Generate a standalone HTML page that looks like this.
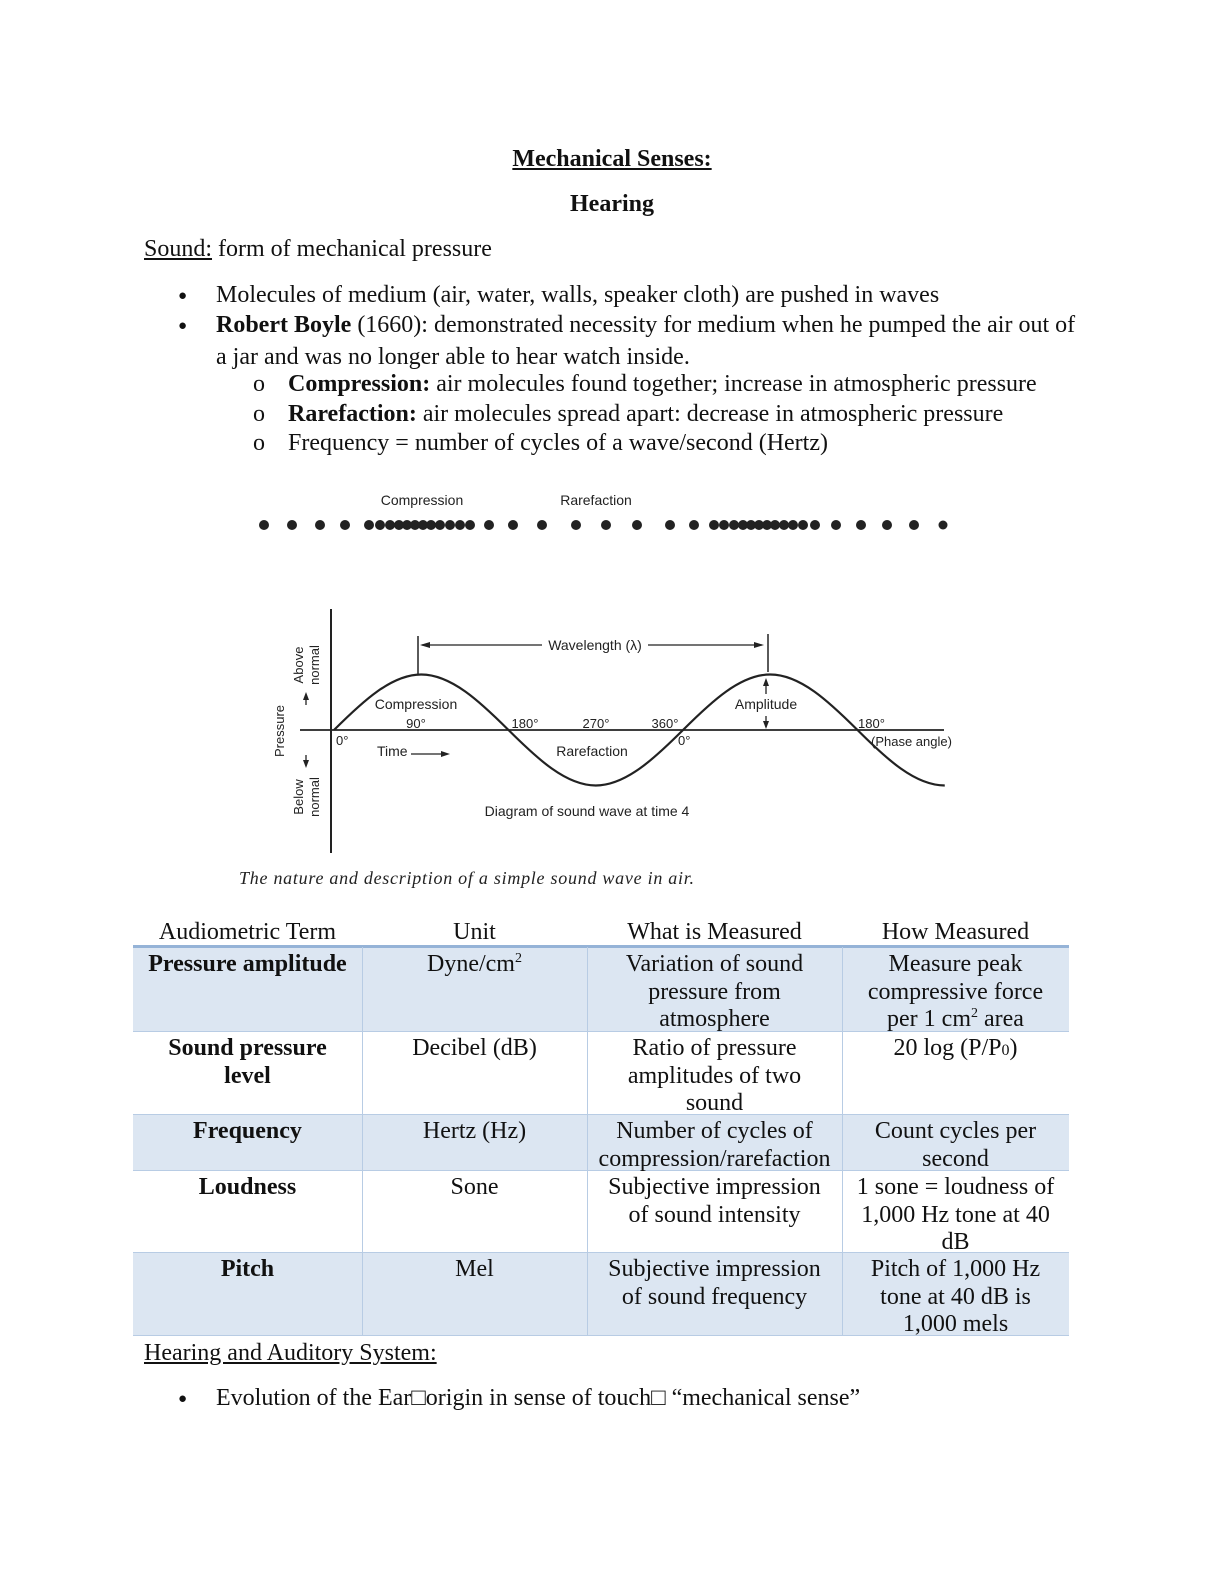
<!DOCTYPE html>
<html><head><meta charset="utf-8"><style>
body{margin:0;background:#fff;}
#p{position:relative;width:1224px;height:1584px;overflow:hidden;font-family:"Liberation Serif",serif;font-size:24px;color:#111;}
.t{position:absolute;white-space:nowrap;line-height:27.6px;}
.c{position:absolute;text-align:center;line-height:27.6px;}
.u{text-decoration:underline;}
.cell{position:absolute;box-sizing:border-box;}
.b{position:absolute;font-size:15px;line-height:27.6px;}
</style></head><body><div id="p">
<div class="t u" style="left:0;width:1224px;text-align:center;top:146px;font-weight:bold">Mechanical Senses:</div>
<div class="t" style="left:0;width:1224px;text-align:center;top:191px;font-weight:bold">Hearing</div>
<div class="t" style="left:144px;top:236px"><span class="u">Sound:</span> form of mechanical pressure</div>
<div class="b" style="left:178px;top:283px">●</div>
<div class="t" style="left:216px;top:282px">Molecules of medium (air, water, walls, speaker cloth) are pushed in waves</div>
<div class="b" style="left:178px;top:313px">●</div>
<div class="t" style="left:216px;top:312px"><b>Robert Boyle</b> (1660): demonstrated necessity for medium when he pumped the air out of</div>
<div class="t" style="left:216px;top:344px">a jar and was no longer able to hear watch inside.</div>
<div class="t" style="left:253px;top:371px">o</div>
<div class="t" style="left:288px;top:371px"><b>Compression:</b> air molecules found together; increase in atmospheric pressure</div>
<div class="t" style="left:253px;top:401px">o</div>
<div class="t" style="left:288px;top:401px"><b>Rarefaction:</b> air molecules spread apart: decrease in atmospheric pressure</div>
<div class="t" style="left:253px;top:430px">o</div>
<div class="t" style="left:288px;top:430px">Frequency = number of cycles of a wave/second (Hertz)</div>

<svg style="position:absolute;left:0;top:0" width="1224" height="900" font-family="Liberation Sans, sans-serif" font-size="14" fill="#222">
<text x="422" y="505" text-anchor="middle">Compression</text>
<text x="596" y="505" text-anchor="middle">Rarefaction</text>
<g fill="#222">
<circle cx="264" cy="525" r="5"/><circle cx="292" cy="525" r="5"/><circle cx="320" cy="525" r="5"/><circle cx="345" cy="525" r="5"/>
<circle cx="369" cy="525" r="5"/><circle cx="380" cy="525" r="5"/><circle cx="390" cy="525" r="5"/><circle cx="399" cy="525" r="5"/><circle cx="407" cy="525" r="5"/><circle cx="415" cy="525" r="5"/><circle cx="423" cy="525" r="5"/><circle cx="431" cy="525" r="5"/><circle cx="440" cy="525" r="5"/><circle cx="450" cy="525" r="5"/><circle cx="460" cy="525" r="5"/><circle cx="470" cy="525" r="5"/>
<circle cx="489" cy="525" r="5"/><circle cx="513" cy="525" r="5"/><circle cx="542" cy="525" r="5"/><circle cx="576" cy="525" r="5"/><circle cx="606" cy="525" r="5"/><circle cx="637" cy="525" r="5"/><circle cx="670" cy="525" r="5"/><circle cx="694" cy="525" r="5"/>
<circle cx="714" cy="525" r="5"/><circle cx="724" cy="525" r="5"/><circle cx="734" cy="525" r="5"/><circle cx="743" cy="525" r="5"/><circle cx="751" cy="525" r="5"/><circle cx="759" cy="525" r="5"/><circle cx="767" cy="525" r="5"/><circle cx="775" cy="525" r="5"/><circle cx="784" cy="525" r="5"/><circle cx="793" cy="525" r="5"/><circle cx="803" cy="525" r="5"/><circle cx="815" cy="525" r="5"/>
<circle cx="836" cy="525" r="5"/><circle cx="861" cy="525" r="5"/><circle cx="887" cy="525" r="5"/><circle cx="914" cy="525" r="5"/><circle cx="943" cy="525" r="4.5"/>
</g>
<g stroke="#222" fill="none" stroke-width="2">
<line x1="331" y1="609" x2="331" y2="853"/>
<line x1="300" y1="730" x2="944" y2="730" stroke-width="1.8"/>
<path d="M334,730 C362.45,701.6 391.3,674.5 421.25,674.5 C451.2,674.5 480,701.6 508.5,730 C537,758.4 565.8,785.5 595.75,785.5 C625.7,785.5 654.5,758.4 683,730 C711.45,701.6 740.3,674.5 770.25,674.5 C800.2,674.5 829,701.6 857.5,730 C886,758.4 914.8,785.5 944.75,785.5" stroke-width="2.2"/>
<line x1="418" y1="636" x2="418" y2="675" stroke-width="1.5"/>
<line x1="768" y1="634" x2="768" y2="672" stroke-width="1.5"/>
<line x1="422" y1="645" x2="542" y2="645" stroke-width="1.3"/>
<line x1="648" y1="645" x2="762" y2="645" stroke-width="1.3"/>
<line x1="766" y1="682" x2="766" y2="694" stroke-width="1.3"/>
<line x1="766" y1="716" x2="766" y2="727" stroke-width="1.3"/>
<line x1="306" y1="696" x2="306" y2="705" stroke-width="1.3"/>
<line x1="306" y1="755" x2="306" y2="764" stroke-width="1.3"/>
<line x1="411" y1="754" x2="446" y2="754" stroke-width="1.3"/>
</g>
<g fill="#222">
<polygon points="420,645 430,642 430,648"/><polygon points="764,645 754,642 754,648"/>
<polygon points="766,678 763,686 769,686"/><polygon points="766,729 763,721 769,721"/>
<polygon points="306,692 303,700 309,700"/><polygon points="306,768 303,760 309,760"/>
<polygon points="450,754 441,751 441,757"/>
</g>
<text x="595" y="650" text-anchor="middle">Wavelength (λ)</text>
<text x="416" y="709" text-anchor="middle">Compression</text>
<text x="416" y="728" text-anchor="middle" font-size="13">90°</text>
<text x="525" y="728" text-anchor="middle" font-size="13">180°</text>
<text x="596" y="728" text-anchor="middle" font-size="13">270°</text>
<text x="665" y="728" text-anchor="middle" font-size="13">360°</text>
<text x="336" y="745" font-size="13">0°</text>
<text x="678" y="745" font-size="13">0°</text>
<text x="377" y="756">Time</text>
<text x="592" y="756" text-anchor="middle">Rarefaction</text>
<text x="766" y="709" text-anchor="middle">Amplitude</text>
<text x="858" y="728" font-size="13">180°</text>
<text x="871" y="746" font-size="13">(Phase angle)</text>
<text x="587" y="816" text-anchor="middle">Diagram of sound wave at time 4</text>
<text transform="translate(284,731) rotate(-90)" text-anchor="middle" font-size="13">Pressure</text>
<text transform="translate(303,665) rotate(-90)" text-anchor="middle" font-size="13">Above</text>
<text transform="translate(319,665) rotate(-90)" text-anchor="middle" font-size="13">normal</text>
<text transform="translate(303,797) rotate(-90)" text-anchor="middle" font-size="13">Below</text>
<text transform="translate(319,797) rotate(-90)" text-anchor="middle" font-size="13">normal</text>
<text x="239" y="884" font-family="Liberation Serif, serif" font-style="italic" font-size="18" textLength="455" lengthAdjust="spacing">The nature and description of a simple sound wave in air.</text>
</svg>

<!-- table -->
<div class="cell" style="left:133px;top:947px;width:936px;height:84px;background:#dce6f2"></div>
<div class="cell" style="left:133px;top:1114px;width:936px;height:56px;background:#dce6f2"></div>
<div class="cell" style="left:133px;top:1252px;width:936px;height:84px;background:#dce6f2"></div>
<div class="cell" style="left:133px;top:945px;width:936px;height:3px;background:#95b3d7"></div>
<div class="cell" style="left:133px;top:1031px;width:936px;height:1px;background:#b8cce4"></div>
<div class="cell" style="left:133px;top:1114px;width:936px;height:1px;background:#b8cce4"></div>
<div class="cell" style="left:133px;top:1170px;width:936px;height:1px;background:#b8cce4"></div>
<div class="cell" style="left:133px;top:1252px;width:936px;height:1px;background:#b8cce4"></div>
<div class="cell" style="left:133px;top:1335px;width:936px;height:1px;background:#b8cce4"></div>
<div class="cell" style="left:362px;top:947px;width:1px;height:389px;background:#b8cce4"></div>
<div class="cell" style="left:587px;top:947px;width:1px;height:389px;background:#b8cce4"></div>
<div class="cell" style="left:842px;top:947px;width:1px;height:389px;background:#b8cce4"></div>

<div class="c" style="left:133px;width:229px;top:919px">Audiometric Term</div>
<div class="c" style="left:362px;width:225px;top:919px">Unit</div>
<div class="c" style="left:587px;width:255px;top:919px">What is Measured</div>
<div class="c" style="left:842px;width:227px;top:919px">How Measured</div>

<div class="c" style="left:133px;width:229px;top:951px;font-weight:bold">Pressure amplitude</div>
<div class="c" style="left:362px;width:225px;top:951px">Dyne/cm<sup style="font-size:14px;line-height:0">2</sup></div>
<div class="c" style="left:587px;width:255px;top:951px">Variation of sound<br>pressure from<br>atmosphere</div>
<div class="c" style="left:842px;width:227px;top:951px">Measure peak<br>compressive force<br>per 1 cm<sup style="font-size:14px;line-height:0">2</sup> area</div>

<div class="c" style="left:133px;width:229px;top:1035px;font-weight:bold">Sound pressure<br>level</div>
<div class="c" style="left:362px;width:225px;top:1035px">Decibel (dB)</div>
<div class="c" style="left:587px;width:255px;top:1035px">Ratio of pressure<br>amplitudes of two<br>sound</div>
<div class="c" style="left:842px;width:227px;top:1035px">20 log (P/P<span style="font-size:16px">0</span>)</div>

<div class="c" style="left:133px;width:229px;top:1118px;font-weight:bold">Frequency</div>
<div class="c" style="left:362px;width:225px;top:1118px">Hertz (Hz)</div>
<div class="c" style="left:587px;width:255px;top:1118px">Number of cycles of<br>compression/rarefaction</div>
<div class="c" style="left:842px;width:227px;top:1118px">Count cycles per<br>second</div>

<div class="c" style="left:133px;width:229px;top:1174px;font-weight:bold">Loudness</div>
<div class="c" style="left:362px;width:225px;top:1174px">Sone</div>
<div class="c" style="left:587px;width:255px;top:1174px">Subjective impression<br>of sound intensity</div>
<div class="c" style="left:842px;width:227px;top:1174px">1 sone = loudness of<br>1,000 Hz tone at 40<br>dB</div>

<div class="c" style="left:133px;width:229px;top:1256px;font-weight:bold">Pitch</div>
<div class="c" style="left:362px;width:225px;top:1256px">Mel</div>
<div class="c" style="left:587px;width:255px;top:1256px">Subjective impression<br>of sound frequency</div>
<div class="c" style="left:842px;width:227px;top:1256px">Pitch of 1,000 Hz<br>tone at 40 dB is<br>1,000 mels</div>

<div class="t u" style="left:144px;top:1340px">Hearing and Auditory System:</div>
<div class="b" style="left:178px;top:1386px">●</div>
<div class="t" style="left:216px;top:1385px">Evolution of the Ear□origin in sense of touch□ “mechanical sense”</div>
</div></body></html>
